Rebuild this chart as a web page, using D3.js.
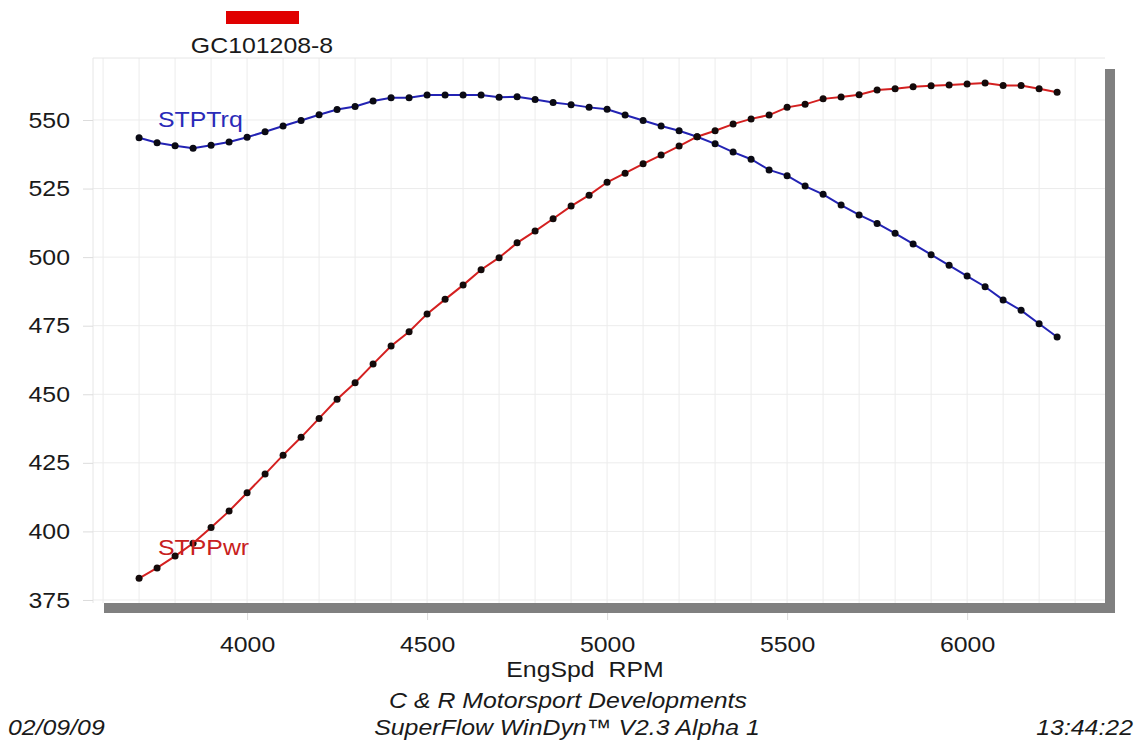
<!DOCTYPE html>
<html>
<head>
<meta charset="utf-8">
<script src="https://cdn.jsdelivr.net/npm/d3@7"></script>
<style>
  html, body { margin: 0; padding: 0; background: #ffffff; }
  svg { display: block; }
  text { font-family: Arial, "Liberation Sans", sans-serif; white-space: pre; }
</style>
</head>
<body>
<svg id="chart" width="1141" height="742"></svg>
<script>
// ---- data ----
const rpm = [3700,3750,3800,3850,3900,3950,4000,4050,4100,4150,4200,4250,4300,4350,4400,4450,4500,4550,4600,4650,
             4700,4750,4800,4850,4900,4950,5000,5050,5100,5150,5200,5250,5300,5350,5400,5450,5500,5550,5600,5650,
             5700,5750,5800,5850,5900,5950,6000,6050,6100,6150,6200,6250];
const stpTrq = [543.5,541.7,540.6,539.7,540.8,542.0,543.7,545.7,547.8,549.8,551.9,553.8,554.9,556.9,558.1,558.1,559.1,559.1,559.1,559.1,
                558.3,558.5,557.5,556.4,555.6,554.6,553.9,551.8,549.8,547.8,546.1,543.9,541.3,538.3,535.7,531.8,529.7,525.9,522.9,519.0,
                515.4,512.3,508.7,504.8,500.9,497.0,493.1,489.2,484.4,480.6,475.7,470.9];
const stpPwr = [382.9,386.7,391.0,395.7,401.4,407.4,414.1,420.9,427.8,434.3,441.2,448.2,454.2,461.0,467.6,472.8,479.3,484.6,489.8,495.4,
                499.8,505.2,509.5,514.0,518.6,522.6,527.3,530.6,534.0,537.2,540.5,543.9,546.1,548.5,550.4,551.8,554.6,555.7,557.7,558.4,
                559.2,560.9,561.4,562.1,562.5,562.8,563.1,563.5,562.6,562.6,561.4,560.1];
const xTicks = [4000, 4500, 5000, 5500, 6000];
const yTicks = [375, 400, 425, 450, 475, 500, 525, 550];
const xGrid = [3600,3700,3800,3900,4000,4100,4200,4300,4400,4500,4600,4700,4800,4900,5000,5100,5200,5300,5400,5500,5600,5700,5800,5900,6000,6100,6200,6300];
const title = "GC101208-8";
const xLabel = "EngSpd  RPM";
const footer1 = "C & R Motorsport Developments";
const footer2 = "SuperFlow WinDyn\u2122 V2.3 Alpha 1";
const dateText = "02/09/09";
const timeText = "13:44:22";

// ---- layout ----
const svg = d3.select("#chart");
const L = 93, R = 1105, T = 58, B = 603;
const SX = 1.13; // horizontal stretch of the reference text
const FS = 22;

const x = d3.scaleLinear().domain([3572, 6383]).range([L, R]);
const y = d3.scaleLinear().domain([373.9, 572.6]).range([B, T]);

function stretchedText(g, str, px, py, size, anchor, fill, italic) {
  return g.append("text")
    .attr("transform", `translate(${px},${py}) scale(${SX},1)`)
    .attr("text-anchor", anchor)
    .attr("font-size", size)
    .attr("font-style", italic ? "italic" : "normal")
    .attr("fill", fill)
    .text(str);
}

// grid
const grid = svg.append("g");
grid.selectAll("line.v").data(xGrid).join("line")
  .attr("x1", d => x(d)).attr("x2", d => x(d))
  .attr("y1", T).attr("y2", B)
  .attr("stroke", "#ececec").attr("stroke-width", 1);
grid.selectAll("line.h").data(yTicks).join("line")
  .attr("x1", L).attr("x2", R)
  .attr("y1", d => y(d)).attr("y2", d => y(d))
  .attr("stroke", "#ececec").attr("stroke-width", 1);
// faint frame
grid.append("line").attr("x1", L).attr("x2", L).attr("y1", T).attr("y2", B).attr("stroke", "#e6e6e6");
grid.append("line").attr("x1", L).attr("x2", R).attr("y1", T).attr("y2", T).attr("stroke", "#e6e6e6");

// shadow bars
svg.append("rect").attr("x", 104).attr("y", B).attr("width", R + 10 - 104).attr("height", 10).attr("fill", "#808080");
svg.append("rect").attr("x", R).attr("y", 69).attr("width", 10).attr("height", B + 10 - 69).attr("fill", "#808080");

// y axis
const yAxis = svg.append("g").attr("transform", `translate(${L},0)`)
  .call(d3.axisLeft(y).tickValues(yTicks).tickSize(10).tickFormat(d3.format("d")));
yAxis.select(".domain").remove();
yAxis.selectAll(".tick line").attr("stroke", "#dcdcdc");
yAxis.selectAll(".tick text")
  .attr("x", -23 / SX)
  .attr("transform", `scale(${SX},1)`)
  .attr("font-size", FS).attr("fill", "#1a1a1a")
  .attr("font-family", "Arial, 'Liberation Sans', sans-serif");

// x axis
const xAxis = svg.append("g").attr("transform", `translate(0,${B + 10})`)
  .call(d3.axisBottom(x).tickValues(xTicks).tickSize(7).tickFormat(d3.format("d")));
xAxis.select(".domain").remove();
xAxis.selectAll(".tick line").attr("stroke", "#dcdcdc");
xAxis.selectAll(".tick text")
  .attr("y", 23)
  .attr("transform", `scale(${SX},1)`)
  .attr("font-size", FS).attr("fill", "#1a1a1a")
  .attr("font-family", "Arial, 'Liberation Sans', sans-serif");

// series
const rows = rpm.map((r, i) => ({ r, tq: stpTrq[i], pw: stpPwr[i] }));
const lineTq = d3.line().x(d => x(d.r)).y(d => y(d.tq));
const linePw = d3.line().x(d => x(d.r)).y(d => y(d.pw));

svg.append("path").datum(rows).attr("d", lineTq)
  .attr("fill", "none").attr("stroke", "#2323b4").attr("stroke-width", 2);
svg.append("path").datum(rows).attr("d", linePw)
  .attr("fill", "none").attr("stroke", "#d42020").attr("stroke-width", 2);

svg.append("g").selectAll("circle").data(rows).join("circle")
  .attr("cx", d => x(d.r)).attr("cy", d => y(d.tq)).attr("r", 3.5).attr("fill", "#0a0a14");
svg.append("g").selectAll("circle").data(rows).join("circle")
  .attr("cx", d => x(d.r)).attr("cy", d => y(d.pw)).attr("r", 3.5).attr("fill", "#140a0a");

// series labels
stretchedText(svg, "STPTrq", 158, 127, FS, "start", "#2a2ab8", false);
stretchedText(svg, "STPPwr", 158, 555, FS, "start", "#c82020", false);

// title with red swatch
svg.append("rect").attr("x", 226).attr("y", 11).attr("width", 73).attr("height", 13).attr("fill", "#e00000");
stretchedText(svg, title, 262, 53, FS, "middle", "#1a1a1a", false);

// bottom texts
stretchedText(svg, xLabel, 585, 677, FS, "middle", "#1a1a1a", false);
stretchedText(svg, footer1, 568, 708, FS, "middle", "#1a1a1a", true);
stretchedText(svg, footer2, 567, 735, FS, "middle", "#1a1a1a", true);
stretchedText(svg, dateText, 8, 735, FS, "start", "#1a1a1a", true);
stretchedText(svg, timeText, 1133, 735, FS, "end", "#1a1a1a", true);
</script>
</body>
</html>
